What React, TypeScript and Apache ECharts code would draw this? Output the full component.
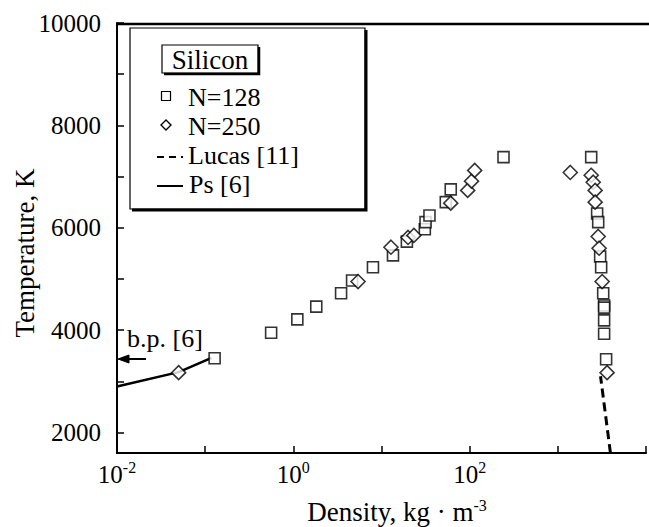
import React, { useEffect, useRef } from "react";
import * as echarts from "echarts";

// Density (kg/m^3), Temperature (K)
const n128: number[][] = [
  [0.128, 3450], [0.56, 3950], [1.11, 4210], [1.82, 4460], [3.48, 4720], [4.64, 4970],
  [8.0, 5230], [13.5, 5460], [19.4, 5730], [31, 5970], [31.6, 6110], [35, 6240],
  [53.6, 6500], [61, 6750], [242, 7380],
  [2390, 7380], [2790, 6280], [2870, 6110], [3020, 5440], [3100, 5230], [3270, 4720],
  [3350, 4480], [3350, 4440], [3350, 4190], [3350, 3930], [3530, 3430],
];
const n250: number[][] = [
  [0.05, 3170], [5.42, 4950], [12.8, 5620], [20, 5810], [23.3, 5850], [61, 6480],
  [95, 6730], [105, 6910], [114, 7120], [1384, 7080],
  [2390, 7025], [2520, 6890], [2650, 6730], [2650, 6500], [2870, 5830], [2940, 5600],
  [3180, 4950], [3620, 3170],
];
const lucas: number[][] = [[3950, 1600], [3050, 3100]];
const ps: number[][] = [[0.01, 2900], [0.05, 3180], [0.118, 3460]];

const yTicks = [2000, 3000, 4000, 5000, 6000, 7000, 8000, 9000, 10000];
const yLabels = [2000, 4000, 6000, 8000, 10000];

const FONT = "Liberation Serif";

const txt = (text: string, x: number, y: number, size: number, extra: any = {}) => ({
  type: "text",
  x,
  y,
  z: 12,
  style: {
    text,
    fontSize: size,
    fontFamily: FONT,
    fill: "#000",
    verticalAlign: "middle",
    ...extra,
  },
});

export default function App() {
  const ref = useRef<HTMLDivElement>(null);
  useEffect(() => {
    document.body.style.margin = "0";
    const chart = echarts.init(ref.current!, null, { renderer: "svg" });
    const axisLineStyle = { color: "#000", width: 2 };
    chart.setOption({
      animation: false,
      backgroundColor: "#fff",
      textStyle: { fontFamily: FONT, color: "#000" },
      grid: { left: 117, right: 0, top: 23, bottom: 74 },
      xAxis: {
        type: "log",
        logBase: 10,
        min: 0.01,
        max: 10000,
        interval: 1,
        splitNumber: 6,
        axisLine: { show: true, onZero: false, lineStyle: axisLineStyle },
        axisTick: { inside: true, length: 7, lineStyle: { color: "#000", width: 1.5 } },
        splitLine: { show: false },
        minorTick: { show: false },
        axisLabel: {
          margin: 6,
          fontFamily: FONT,
          formatter: (v: number) => {
            const e = Math.round(Math.log10(v));
            if (e % 2 !== 0 || e === 4) return "";
            return `{b|10}{s|${e}}`;
          },
          rich: {
            b: { fontSize: 25, fontFamily: FONT, color: "#000", lineHeight: 28, verticalAlign: "bottom" },
            s: { fontSize: 16, fontFamily: FONT, color: "#000", lineHeight: 28, verticalAlign: "top" },
          },
        },
      },
      yAxis: {
        type: "value",
        min: 1600,
        max: 10000,
        axisLine: { show: true, onZero: false, lineStyle: axisLineStyle },
        axisTick: {
          inside: true,
          length: 7,
          customValues: yTicks,
          lineStyle: { color: "#000", width: 1.5 },
        },
        splitLine: { show: false },
        axisLabel: {
          customValues: yLabels,
          fontSize: 25,
          fontFamily: FONT,
          color: "#000",
          margin: 16,
          formatter: (v: number) => String(v),
        },
      },
      series: [
        {
          name: "Ps [6]",
          type: "line",
          data: ps,
          symbol: "none",
          lineStyle: { color: "#000", width: 2.5 },
          z: 1,
        },
        {
          name: "Lucas [11]",
          type: "line",
          data: lucas,
          symbol: "none",
          lineStyle: { color: "#000", width: 3, type: [9, 5] },
          z: 1,
        },
        {
          name: "N=128",
          type: "scatter",
          data: n128,
          symbol: "rect",
          symbolSize: 11,
          itemStyle: { color: "#fff", borderColor: "#000", borderWidth: 1.6 },
          z: 3,
        },
        {
          name: "N=250",
          type: "scatter",
          data: n250,
          symbol: "diamond",
          symbolSize: [14, 14],
          itemStyle: { color: "#fff", borderColor: "#000", borderWidth: 1.6 },
          z: 4,
        },
      ],
      graphic: [
        // axis names
        txt("Density, kg · m{s|-3}", 397, 512, 27, {
          align: "center",
          rich: { s: { fontSize: 16, fontFamily: FONT, verticalAlign: "top", lineHeight: 30 } },
        }),
        {
          ...txt("Temperature, K", 25, 253, 27, { align: "center" }),
          rotation: Math.PI / 2,
        },
        // legend box
        {
          type: "rect",
          shape: { x: 130, y: 28, width: 235, height: 181 },
          style: { fill: "#fff", stroke: "#000", lineWidth: 1.2 },
          z: 10,
        },
        {
          type: "polyline",
          shape: { points: [[366, 30], [366, 210], [132, 210]] },
          style: { stroke: "#000", lineWidth: 3, fill: null },
          z: 11,
        },
        {
          type: "rect",
          shape: { x: 162, y: 45, width: 96, height: 28 },
          style: { fill: "#fff", stroke: "#000", lineWidth: 1.2 },
          z: 11,
        },
        {
          type: "polyline",
          shape: { points: [[259, 47], [259, 74], [164, 74]] },
          style: { stroke: "#000", lineWidth: 2.5, fill: null },
          z: 12,
        },
        txt("Silicon", 210, 60, 27, { align: "center" }),
        {
          type: "rect",
          shape: { x: 161.5, y: 91.5, width: 9, height: 9 },
          style: { fill: "#fff", stroke: "#000", lineWidth: 1.2 },
          z: 12,
        },
        {
          type: "polygon",
          shape: { points: [[166, 120], [171, 125], [166, 130], [161, 125]] },
          style: { fill: "#fff", stroke: "#000", lineWidth: 1.4 },
          z: 12,
        },
        {
          type: "line",
          shape: { x1: 157, y1: 157, x2: 183, y2: 157 },
          style: { stroke: "#000", lineWidth: 2, lineDash: [7, 5] },
          z: 12,
        },
        {
          type: "line",
          shape: { x1: 157, y1: 186, x2: 183, y2: 186 },
          style: { stroke: "#000", lineWidth: 2 },
          z: 12,
        },
        txt("N=128", 188, 97, 26),
        txt("N=250", 188, 126, 26),
        txt("Lucas [11]", 188, 155, 26),
        txt("Ps [6]", 189, 184, 26),
        // b.p. annotation
        txt("b.p. [6]", 127, 338, 26),
        {
          type: "line",
          shape: { x1: 126, y1: 359, x2: 146, y2: 359 },
          style: { stroke: "#000", lineWidth: 2 },
          z: 12,
        },
        {
          type: "polygon",
          shape: { points: [[118, 359], [129, 355], [129, 363]] },
          style: { fill: "#000", stroke: "#000", lineWidth: 1 },
          z: 12,
        },
        // top frame line
        {
          type: "line",
          shape: { x1: 116, y1: 24, x2: 649, y2: 24 },
          style: { stroke: "#000", lineWidth: 2.5 },
          z: 30,
        },
      ],
    });
    return () => chart.dispose();
  }, []);
  return <div ref={ref} style={{ width: 649, height: 527 }} />;
}
